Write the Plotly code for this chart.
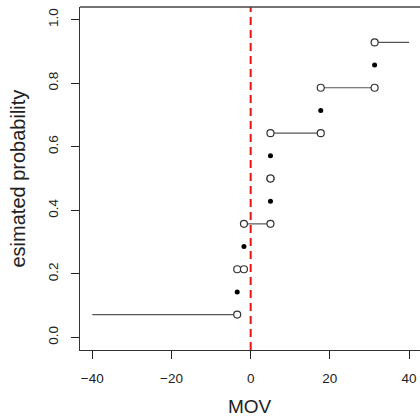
import plotly.graph_objects as go

# ---- data ----
interval_y = [1/14, 3/14, 5/14, 7/14, 9/14, 11/14, 13/14]
interval_lo = [-40, -3.4, -1.7, 5, 5, 17.7, 31.3]
interval_hi = [-3.4, -1.7, 5, 5, 17.7, 31.3, 40]
lo_open = [False, True, True, True, True, True, True]
hi_open = [True, True, True, True, True, True, False]

point_y = [2/14, 4/14, 6/14, 8/14, 10/14, 12/14]
point_x = [-3.4, -1.7, 5, 5, 17.7, 31.3]

x_ticks = [-40, -20, 0, 20, 40]
y_ticks = [0.0, 0.2, 0.4, 0.6, 0.8, 1.0]
y_ticklabels = ["0.0", "0.2", "0.4", "0.6", "0.8", "1.0"]
x_ticklabels = ["\u221240", "\u221220", "0", "20", "40"]

FONT = "Liberation Sans, Arial, Helvetica, sans-serif"

fig = go.Figure()

# horizontal segments
sx, sy = [], []
for lo, hi, y in zip(interval_lo, interval_hi, interval_y):
    sx += [lo, hi, None]
    sy += [y, y, None]
fig.add_trace(go.Scatter(x=sx, y=sy, mode="lines",
                         line=dict(color="#555555", width=1.2),
                         hoverinfo="skip", showlegend=False))

# open circles at interval ends
ox, oy = [], []
for lo, hi, y, lf, hf in zip(interval_lo, interval_hi, interval_y, lo_open, hi_open):
    if lf:
        ox.append(lo); oy.append(y)
    if hf:
        ox.append(hi); oy.append(y)
fig.add_trace(go.Scatter(x=ox, y=oy, mode="markers",
                         marker=dict(symbol="circle", size=7, color="white",
                                     line=dict(color="#333333", width=1.2)),
                         showlegend=False))

# filled points
fig.add_trace(go.Scatter(x=point_x, y=point_y, mode="markers",
                         marker=dict(symbol="circle", size=5, color="black"),
                         showlegend=False))

# vertical reference line at 0
fig.add_shape(type="line", xref="x", yref="paper", x0=0, x1=0, y0=0, y1=1,
              line=dict(color="#ee1111", width=2, dash="8px,5px"))
# top border
fig.add_shape(type="line", xref="paper", yref="paper", x0=0, x1=1, y0=1, y1=1,
              line=dict(color="#444444", width=1.3))

fig.update_xaxes(range=[-43.1, 42.76], tickvals=x_ticks, ticktext=x_ticklabels,
                 showgrid=False, zeroline=False, showline=True, linecolor="#333333",
                 linewidth=1.3, ticks="outside", ticklen=8, tickcolor="#222222",
                 tickwidth=1, ticklabelstandoff=8,
                 tickfont=dict(family=FONT, size=13.5, color="#222222"))
fig.update_yaxes(range=[-0.04, 1.04], tickvals=y_ticks, ticktext=y_ticklabels,
                 showgrid=False, zeroline=False, showline=True, linecolor="#333333",
                 linewidth=1.3, ticks="outside", ticklen=8, tickcolor="#222222",
                 tickwidth=1, tickangle=-90, ticklabelstandoff=7,
                 tickfont=dict(family=FONT, size=13.5, color="#222222"))

fig.add_annotation(text="MOV", xref="paper", yref="paper", x=0.5, y=0,
                   xanchor="center", yanchor="middle", yshift=-56, showarrow=False,
                   font=dict(family=FONT, size=19, color="#222222"))
fig.add_annotation(text="esimated probability", xref="paper", yref="paper", x=0, y=0.5,
                   xanchor="center", yanchor="middle", xshift=-63, textangle=-90,
                   showarrow=False, font=dict(family=FONT, size=20, color="#222222"))

fig.update_layout(width=420, height=417, margin=dict(l=80, r=0, t=7, b=67),
                  paper_bgcolor="white", plot_bgcolor="white")

fig.write_html("out.html")
